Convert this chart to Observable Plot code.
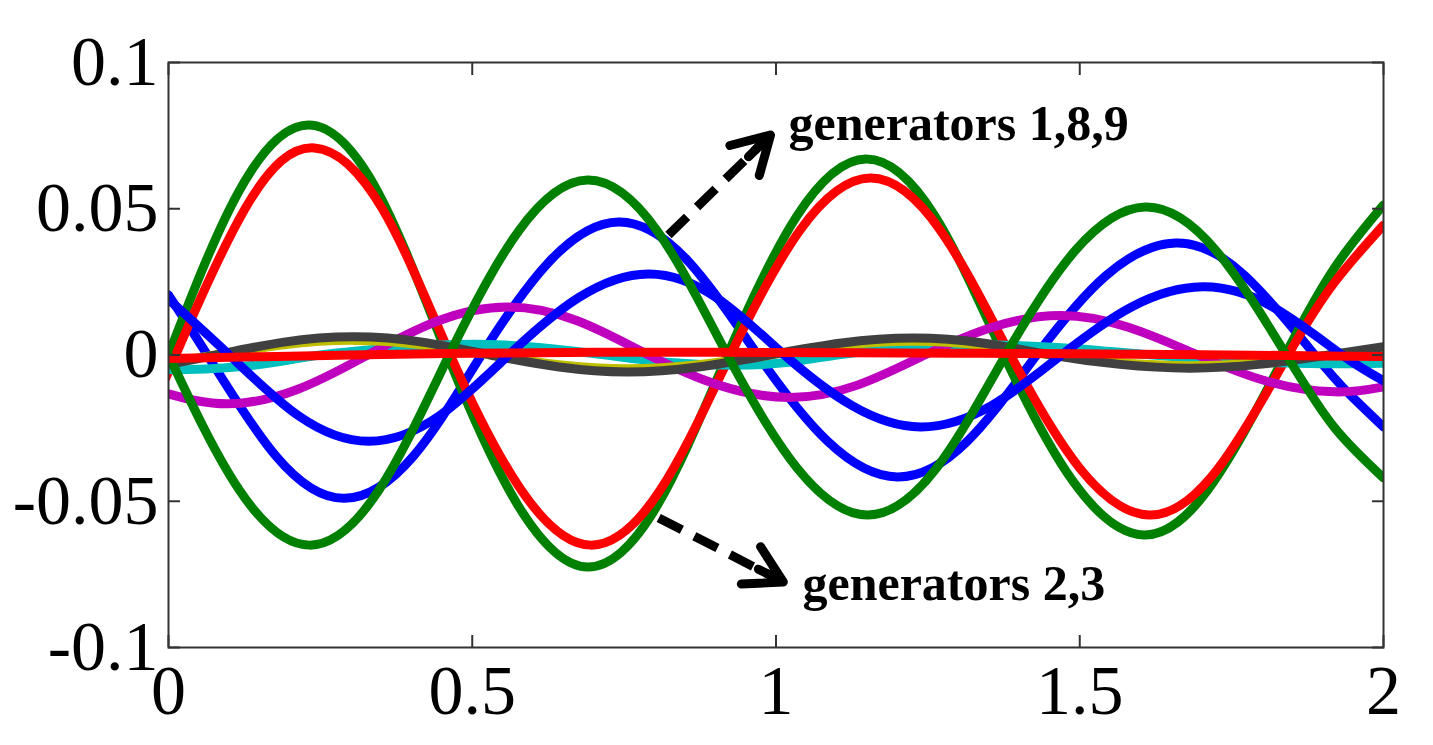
<!DOCTYPE html>
<html><head><meta charset="utf-8">
<script src="https://cdn.jsdelivr.net/npm/d3@7"></script>
<script src="https://cdn.jsdelivr.net/npm/@observablehq/plot@0.6"></script>
<style>html,body{margin:0;padding:0;background:#fff;overflow:hidden;}</style>
</head><body><div id="chart"></div>
<script>
// ---- axis ticks ----
const xTicks = [0, 0.5, 1, 1.5, 2];
const xTickLabels = ["0", "0.5", "1", "1.5", "2"];
const yTicks = [-0.1, -0.05, 0, 0.05, 0.1];
const yTickLabels = ["-0.1", "-0.05", "0", "0.05", "0.1"];

// ---- series ----
const blue1X = [0, 0.064, 0.177, 0.29, 0.403, 0.515, 0.628, 0.741, 0.855, 0.97, 1.085, 1.2, 1.315, 1.429, 1.543, 1.658, 1.772, 1.887, 1.945, 2.0];
const blue1Y = [0.0205, 0, -0.0346, -0.049, -0.0346, 0, 0.0322, 0.0455, 0.0322, 0, -0.0295, -0.0417, -0.0295, 0, 0.0271, 0.0383, 0.0271, 0, -0.0136, -0.0246];

const green2X = [0, 0.115, 0.23, 0.345, 0.459, 0.575, 0.69, 0.805, 0.92, 1.034, 1.148, 1.262, 1.375, 1.49, 1.605, 1.72, 1.838, 1.92, 2.0];
const green2Y = [0, 0.0556, 0.0786, 0.0556, 0, -0.0513, -0.0725, -0.0513, 0, 0.0474, 0.067, 0.0474, 0, -0.0435, -0.0615, -0.0435, 0, 0.030, 0.0513];

const red3X = [0, 0.012, 0.126, 0.24, 0.352, 0.464, 0.58, 0.695, 0.81, 0.925, 1.04, 1.155, 1.27, 1.386, 1.5, 1.614, 1.728, 1.843, 1.92, 2.0];
const red3Y = [-0.0057, 0, 0.050, 0.0708, 0.050, 0, -0.046, -0.065, -0.046, 0, 0.0428, 0.0605, 0.0428, 0, -0.0387, -0.0547, -0.0387, 0, 0.025, 0.0444];

const cyan4X = [0, 0.03, 0.14, 0.25, 0.38, 0.5, 0.61, 0.72, 0.82, 0.93, 1.02, 1.1, 1.21, 1.33, 1.47, 1.62, 1.76, 1.9, 2.0];
const cyan4Y = [-0.0049, -0.005, -0.0035, 0, 0.0026, 0.0037, 0.0026, 0, -0.0025, -0.0035, -0.0025, 0, 0.0025, 0.0035, 0.0025, 0, -0.0021, -0.003, -0.0028];

const magenta5X = [0, 0.097, 0.212, 0.328, 0.443, 0.558, 0.674, 0.79, 0.906, 1.022, 1.134, 1.245, 1.356, 1.468, 1.58, 1.694, 1.807, 1.92, 2.0];
const magenta5Y = [-0.0133, -0.0167, -0.0118, 0, 0.0116, 0.0164, 0.0116, 0, -0.0103, -0.0145, -0.0103, 0, 0.0095, 0.0135, 0.0095, 0, -0.0089, -0.0126, -0.0109];

const yellow6X = [0, 0.078, 0.19, 0.305, 0.418, 0.53, 0.643, 0.755, 0.872, 0.99, 1.108, 1.226, 1.34, 1.453, 1.566, 1.68, 1.795, 1.91, 2.0];
const yellow6Y = [-0.0026, 0, 0.0035, 0.005, 0.0035, 0, -0.0033, -0.0047, -0.0033, 0, 0.0033, 0.0047, 0.0033, 0, -0.0026, -0.0037, -0.0026, 0, 0.0022];

const gray7X = [0, 0.078, 0.19, 0.305, 0.418, 0.53, 0.643, 0.755, 0.872, 0.99, 1.108, 1.226, 1.34, 1.453, 1.566, 1.68, 1.795, 1.91, 2.0];
const gray7Y = [-0.0032, 0, 0.0044, 0.0062, 0.0044, 0, -0.0041, -0.0058, -0.0041, 0, 0.0041, 0.0058, 0.0041, 0, -0.0032, -0.0045, -0.0032, 0, 0.0028];

const blue8X = [0, 0.10, 0.215, 0.33, 0.445, 0.56, 0.675, 0.79, 0.902, 1.014, 1.126, 1.238, 1.354, 1.47, 1.586, 1.702, 1.817, 1.932, 2.0];
const blue8Y = [0.019, 0, -0.0209, -0.0295, -0.0209, 0, 0.0196, 0.0277, 0.0196, 0, -0.0174, -0.0246, -0.0174, 0, 0.0165, 0.0233, 0.0165, 0, -0.0088];

const green9X = [0, 0.116, 0.232, 0.347, 0.462, 0.576, 0.69, 0.805, 0.92, 1.035, 1.15, 1.264, 1.378, 1.493, 1.608, 1.724, 1.84, 1.92, 2.0];
const green9Y = [0, -0.046, -0.065, -0.046, 0, 0.0423, 0.0598, 0.0423, 0, -0.0387, -0.0547, -0.0387, 0, 0.0358, 0.0506, 0.0358, 0, -0.025, -0.042];

const red10X = [0, 0.15, 0.3, 0.5, 0.7, 0.9, 1.1, 1.3, 1.5, 1.7, 1.9, 2.0];
const red10Y = [-0.0012, -0.0006, 0.0, 0.0006, 0.0009, 0.0009, 0.0008, 0.0006, 0.0004, 0.0001, -0.0003, -0.0005];

const seriesColors = ["#0000FF", "#008000", "#FF0000", "#00BFBF", "#BF00BF", "#BFBF00", "#404040", "#0000FF", "#008000", "#FF0000"];

// ---- annotations ----
const annText = ["generators 1,8,9", "generators 2,3"];
const annX = [1.0206, 1.0436];
const annY = [0.0735, -0.0838];
const arrowX1 = [0.823, 0.807];
const arrowY1 = [0.041, -0.0557];
const arrowX2 = [0.991, 1.012];
const arrowY2 = [0.0752, -0.0776];

const series = [
  [blue1X, blue1Y], [green2X, green2Y], [red3X, red3Y], [cyan4X, cyan4Y], [magenta5X, magenta5Y],
  [yellow6X, yellow6Y], [gray7X, gray7Y], [blue8X, blue8Y], [green9X, green9Y], [red10X, red10Y]
];

const tickFont = "Liberation Serif, Times New Roman, serif";

const lineMarks = series.map(([xs, ys], i) =>
  Plot.line(xs, {x: xs, y: ys, stroke: seriesColors[i], strokeWidth: 9, curve: "natural", clip: true})
);

const chart = Plot.plot({
  width: 1433,
  height: 745,
  marginLeft: 168,
  marginRight: 50,
  marginTop: 62,
  marginBottom: 98,
  style: {background: "#fff", overflow: "visible"},
  x: {domain: [0, 2]},
  y: {domain: [-0.1, 0.1]},
  marks: [
    ...lineMarks,
    Plot.link(arrowX1, {x1: arrowX1, y1: arrowY1, x2: arrowX2, y2: arrowY2, stroke: "black", strokeWidth: 9, strokeDasharray: "26,14"}),
    Plot.arrow(arrowX1, {x1: arrowX1, y1: arrowY1, x2: arrowX2, y2: arrowY2, stroke: "black", strokeWidth: 9, headLength: 7, headAngle: 60, insetStart: 112, strokeLinecap: "round", strokeLinejoin: "round"}),
    Plot.text(annText, {x: annX, y: annY, text: d => d, textAnchor: "start", lineAnchor: "bottom", fontSize: 50, fontWeight: "bold", fontFamily: tickFont, fill: "black"}),
    Plot.frame({stroke: "#333", strokeWidth: 2}),
    // inward ticks
    Plot.axisX({anchor: "bottom", ticks: xTicks, tickSize: 12, dy: -12, tickFormat: () => "", stroke: "#333", strokeWidth: 2}),
    Plot.axisX({anchor: "top", ticks: xTicks, tickSize: 12, dy: 12, tickFormat: () => "", stroke: "#333", strokeWidth: 2}),
    Plot.axisY({anchor: "left", ticks: yTicks, tickSize: 12, dx: 12, tickFormat: () => "", stroke: "#333", strokeWidth: 2}),
    Plot.axisY({anchor: "right", ticks: yTicks, tickSize: 12, dx: -12, tickFormat: () => "", stroke: "#333", strokeWidth: 2}),
    // labels
    Plot.axisX({anchor: "bottom", ticks: xTicks, tickSize: 0, tickPadding: 17, tickFormat: (d) => xTickLabels[xTicks.indexOf(d)], fontSize: 70, fontFamily: tickFont, fill: "black", label: null}),
    Plot.axisY({anchor: "left", ticks: yTicks, tickSize: 0, tickPadding: 10, tickFormat: (d) => yTickLabels[yTicks.indexOf(d)], fontSize: 70, fontFamily: tickFont, fill: "black", label: null})
  ]
});
document.getElementById("chart").appendChild(chart);
</script>
</body></html>
